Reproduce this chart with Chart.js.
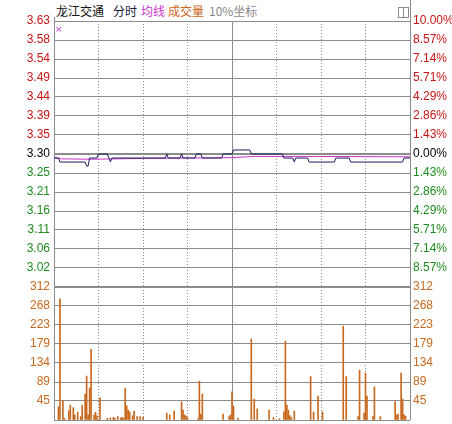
<!DOCTYPE html>
<html>
<head>
<meta charset="utf-8">
<script src="https://cdn.jsdelivr.net/npm/chart.js@4/dist/chart.umd.min.js"></script>
<style>
  body { margin: 0; background: #fff; width: 452px; height: 424px; overflow: hidden; position: relative; }
  canvas { position: absolute; left: 0; }
  #priceChart { top: 0; }
  #volChart { top: 270px; }
  .ttl { position: absolute; top: 3px; font-family: "Noto Sans CJK SC", sans-serif; font-size: 12px; line-height: 16px; white-space: nowrap; }
  .vline { position: absolute; width: 1px; background: #8c8c8c; }
  #icon { position: absolute; left: 398px; top: 7px; width: 9px; height: 9px; border: 1px solid #8c8c8c; }
  #icon div { position: absolute; left: 4px; top: 0; width: 1px; height: 9px; background: #8c8c8c; }
</style>
</head>
<body>
<div class="ttl" style="left:56px;color:#111">龙江交通</div>
<div class="ttl" style="left:113px;color:#1a1a3a">分时</div>
<div class="ttl" style="left:141px;color:#cc33cc">均线</div>
<div class="ttl" style="left:168px;color:#cc6622">成交量</div>
<div class="ttl" style="left:209px;color:#888">10%坐标</div>
<div id="icon"><div></div></div>
<div class="vline" style="left:410px;top:0;height:22px"></div>
<div class="vline" style="left:54px;top:17px;height:5px"></div>
<canvas id="priceChart" width="452" height="292"></canvas>
<canvas id="volChart" width="452" height="154"></canvas>
<script>
// previous close, percent grid (10% coordinate)
const prevClose = 3.30;
const pctSteps = [-10, -8.57, -7.14, -5.71, -4.29, -2.86, -1.43, 0, 1.43, 2.86, 4.29, 5.71, 7.14, 8.57, 10];
const priceTickLabels = ["", "3.02", "3.06", "3.11", "3.16", "3.21", "3.25", "3.30", "3.35", "3.39", "3.44", "3.49", "3.54", "3.58", "3.63"];
const pctTickLabels = ["", "8.57%", "7.14%", "5.71%", "4.29%", "2.86%", "1.43%", "0.00%", "1.43%", "2.86%", "4.29%", "5.71%", "7.14%", "8.57%", "10.00%"];

// minutes since 9:30 (0..240), half-hour grid
const timeTicks = [0, 30, 60, 90, 120, 150, 180, 210, 240];

// price line (minute, price) where it changes
const priceMinutes = [0, 3, 4, 21, 22, 23, 24, 29, 30, 36, 37, 38, 39, 75, 76, 77, 85, 86, 87, 95, 96, 99, 100, 113, 114, 120, 121, 132, 133, 154, 155, 161, 162, 163, 171, 172, 189, 190, 199, 200, 235, 236, 240];
const priceValues  = [3.29, 3.29, 3.28, 3.28, 3.27, 3.27, 3.29, 3.29, 3.30, 3.30, 3.29, 3.28, 3.29, 3.29, 3.30, 3.29, 3.29, 3.30, 3.29, 3.29, 3.30, 3.30, 3.29, 3.29, 3.30, 3.30, 3.31, 3.31, 3.30, 3.30, 3.29, 3.29, 3.28, 3.29, 3.29, 3.28, 3.28, 3.29, 3.29, 3.28, 3.28, 3.29, 3.29];

// average price line
const avgMinutes = [0, 5, 25, 60, 120, 135, 170, 240];
const avgValues  = [3.292, 3.288, 3.287, 3.289, 3.291, 3.294, 3.294, 3.293];

// volume bars
const volMinutes = [3, 4, 6, 7, 10, 11, 13, 14, 16, 18, 19, 21, 22, 23, 24, 25, 27, 28, 29, 31, 36, 38, 40, 41, 43, 45, 46, 47, 48, 49, 50, 51, 53, 54, 56, 58, 60,
  76, 78, 81, 86, 87, 88, 89, 90, 97, 98, 99, 100, 114, 118, 119, 120, 121, 124, 133, 135, 137, 145, 148, 152, 155, 156, 157, 158, 159, 160, 162,
  173, 175, 178, 181, 195, 197, 205, 206, 209, 210, 211, 215, 216, 220, 230, 231, 232, 234, 235, 236, 237];
const volValues = [31, 284, 45, 4, 22, 35, 29, 12, 18, 8, 34, 61, 103, 12, 75, 166, 12, 18, 10, 52, 4, 5, 6, 4, 8, 5, 6, 4, 75, 33, 23, 19, 10, 21, 8, 8, 6,
  16, 12, 21, 43, 23, 12, 9, 5, 3, 91, 14, 61, 14, 8, 12, 66, 33, 4, 190, 49, 26, 23, 6, 3, 19, 185, 35, 23, 10, 6, 21,
  102, 19, 56, 19, 220, 102, 8, 117, 16, 110, 56, 8, 78, 8, 43, 12, 14, 110, 49, 12, 9];
const volTicks = [0, 45, 89, 134, 179, 223, 268, 312];

const gridColor = "#8c8c8c";
const upColor = "#c81414";
const downColor = "#1e8c1e";
const volColor = "#c8691e";
const tickFont = { family: "Liberation Sans", size: 12 };

function xScale() {
  return {
    type: "linear", min: 0, max: 240, offset: false,
    afterBuildTicks: s => { s.ticks = timeTicks.map(v => ({ value: v })); },
    afterFit: s => { s.height = 0; s.paddingLeft = 0; s.paddingRight = 0; },
    ticks: { display: false },
    grid: { color: gridColor, lineWidth: 1, drawTicks: false, offset: false },
    border: {
      display: false,
      dash: c => (c.tick && c.tick.value % 120 !== 0) ? [1, 2] : []
    }
  };
}

// keep the plot box where the layout padding puts it
function fixWidth(w) {
  return s => { s.width = w; s.paddingTop = 0; s.paddingBottom = 0; };
}

function priceColor(v) {
  if (Math.abs(v - prevClose) < 1e-6) return "#000";
  return v > prevClose ? upColor : downColor;
}

const pricePts = priceMinutes.map((m, i) => ({ x: m, y: priceValues[i] }));
const avgPts = avgMinutes.map((m, i) => ({ x: m, y: avgValues[i] }));
const pctTickValues = pctSteps.map(p => prevClose * (1 + p / 100));

const markerPlugin = {
  id: "marker",
  afterDraw(chart) {
    const a = chart.chartArea, ctx = chart.ctx;
    ctx.save();
    ctx.fillStyle = "#cc33cc";
    ctx.font = "9px 'DejaVu Sans'";
    ctx.fillText("×", a.left + 1, a.top + 11);
    ctx.restore();
  }
};

new Chart(document.getElementById("priceChart"), {
  type: "line",
  data: {
    datasets: [
      { label: "价格", data: pricePts, borderColor: "#1c1c5c", borderWidth: 1, pointRadius: 0, tension: 0, order: 0 },
      { label: "均价", data: avgPts, borderColor: "#cc33cc", borderWidth: 1, pointRadius: 0, tension: 0, order: 1 }
    ]
  },
  options: {
    responsive: false,
    animation: false,
    layout: { padding: { top: 21, bottom: 5, left: 0, right: 0 } },
    plugins: { legend: { display: false }, tooltip: { enabled: false } },
    scales: {
      x: xScale(),
      y: {
        position: "left",
        min: prevClose * 0.9, max: prevClose * 1.1,
        afterBuildTicks: s => { s.ticks = pctTickValues.map(v => ({ value: v })); },
        afterFit: fixWidth(54),
        ticks: {
          autoSkip: false, padding: 4, font: tickFont,
          color: c => priceColor(c.tick.value),
          callback: (v, i) => priceTickLabels[i]
        },
        grid: {
          color: gridColor, drawTicks: false,
          lineWidth: c => (c.tick && (Math.abs(c.tick.value - prevClose) < 1e-6 || c.index === 0)) ? 2 : 1
        },
        border: { display: false }
      },
      yR: {
        position: "right",
        min: prevClose * 0.9, max: prevClose * 1.1,
        afterBuildTicks: s => { s.ticks = pctTickValues.map(v => ({ value: v })); },
        afterFit: fixWidth(42),
        ticks: {
          autoSkip: false, padding: 3, font: tickFont,
          color: c => priceColor(c.tick.value),
          callback: (v, i) => pctTickLabels[i]
        },
        grid: { drawOnChartArea: false, drawTicks: false },
        border: { display: false }
      }
    }
  },
  plugins: [markerPlugin]
});

const volPts = volMinutes.map((m, i) => ({ x: m, y: volValues[i] }));

function volAxis(pos, width, pad) {
  return {
    position: pos,
    min: 0, max: 312,
    afterBuildTicks: s => { s.ticks = volTicks.map(v => ({ value: v })); },
    afterFit: fixWidth(width),
    ticks: {
      autoSkip: false, padding: pad, font: tickFont, color: volColor,
      callback: v => v === 0 ? "" : String(v)
    },
    grid: pos === "left"
      ? { color: gridColor, drawTicks: false, lineWidth: c => (c.tick && c.tick.value === 312) ? 2 : 1 }
      : { drawOnChartArea: false, drawTicks: false },
    border: { display: false }
  };
}

new Chart(document.getElementById("volChart"), {
  type: "bar",
  data: {
    datasets: [
      { label: "成交量", data: volPts, backgroundColor: volColor, barThickness: 1, borderWidth: 0 }
    ]
  },
  options: {
    responsive: false,
    animation: false,
    layout: { padding: { top: 17, bottom: 4, left: 0, right: 0 } },
    plugins: { legend: { display: false }, tooltip: { enabled: false } },
    scales: {
      x: xScale(),
      y: volAxis("left", 54, 4),
      yR: volAxis("right", 42, 3)
    }
  }
});
</script>
</body>
</html>
